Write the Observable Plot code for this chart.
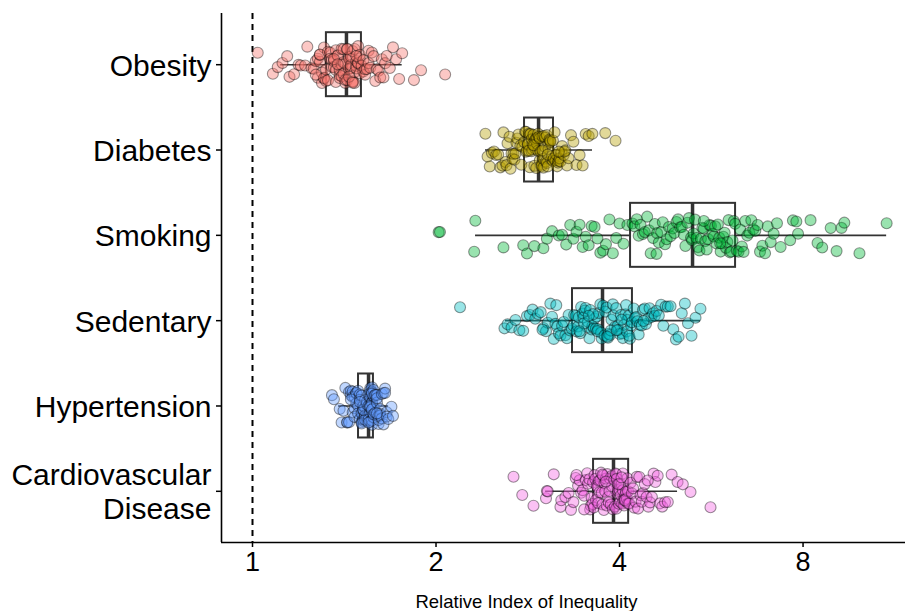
<!DOCTYPE html>
<html>
<head>
<meta charset="utf-8">
<script src="https://cdn.jsdelivr.net/npm/d3@7"></script>
<script src="https://cdn.jsdelivr.net/npm/@observablehq/plot@0.6"></script>
<style>
  html, body { margin: 0; padding: 0; background: #fff; }
  #chart svg { display: block; }
</style>
</head>
<body>
<div id="chart"></div>
<script>
// ---- data ----
const categories = ["Obesity", "Diabetes", "Smoking", "Sedentary", "Hypertension", "Cardiovascular\nDisease"];
const colors = ["#F8766D", "#B79F00", "#00BA38", "#00BFC4", "#619CFF", "#F564E3"];

// box-plot statistics (Relative Index of Inequality)
const whiskerLo = [1.112, 2.411, 2.322, 2.60, 1.384, 3.025];
const q1        = [1.322, 2.794, 4.17, 3.349, 1.4925, 3.626];
const median    = [1.426, 2.946, 5.27, 3.751, 1.55, 3.91];
const q3        = [1.509, 3.117, 6.20, 4.20, 1.579, 4.14];
const whiskerHi = [1.76, 3.612, 10.97, 5.43, 1.672, 4.98];

const xTicks = [1, 2, 4, 8];
const refLine = [1];
const xTitle = "Relative Index of Inequality";

// individual estimates
const obesityRII = [1.02, 1.08, 1.10, 1.12, 1.14, 1.15, 1.17, 1.19, 1.20, 1.22, 1.23, 1.25, 1.26, 1.27, 1.28, 1.28, 1.29, 1.29, 1.30, 1.30, 1.31, 1.31, 1.31, 1.32, 1.32, 1.29, 1.27,
  1.33, 1.33, 1.34, 1.34, 1.35, 1.35, 1.36, 1.36, 1.37, 1.37, 1.37, 1.38, 1.38, 1.39, 1.39, 1.39, 1.40, 1.40, 1.40, 1.41, 1.41, 1.41, 1.42, 1.42, 1.42, 1.36, 1.38,
  1.43, 1.43, 1.44, 1.44, 1.44, 1.45, 1.45, 1.45, 1.46, 1.46, 1.46, 1.47, 1.47, 1.47, 1.48, 1.48, 1.48, 1.49, 1.49, 1.49, 1.50, 1.50, 1.50, 1.44, 1.46, 1.48, 1.43,
  1.51, 1.52, 1.52, 1.53, 1.53, 1.54, 1.55, 1.55, 1.56, 1.57, 1.58, 1.59, 1.60, 1.61, 1.62, 1.63, 1.64, 1.65, 1.66, 1.68, 1.70, 1.72, 1.74, 1.76, 1.84, 1.89, 2.07];
const diabetesRII = [2.41, 2.43, 2.45, 2.47, 2.49, 2.51, 2.53, 2.55, 2.57, 2.58, 2.60, 2.61, 2.62, 2.64, 2.65, 2.66, 2.67, 2.68, 2.69, 2.70, 2.71, 2.72, 2.73, 2.75, 2.76, 2.77, 2.79,
  2.80, 2.81, 2.81, 2.82, 2.83, 2.83, 2.84, 2.85, 2.85, 2.86, 2.87, 2.87, 2.88, 2.88, 2.89, 2.90, 2.90, 2.91, 2.91, 2.92, 2.92, 2.93, 2.93, 2.94, 2.94, 2.84, 2.89,
  2.95, 2.96, 2.96, 2.97, 2.98, 2.98, 2.99, 3.00, 3.00, 3.01, 3.02, 3.02, 3.03, 3.04, 3.04, 3.05, 3.06, 3.06, 3.07, 3.08, 3.08, 3.09, 3.10, 3.11, 3.11, 2.99, 3.05,
  3.12, 3.13, 3.14, 3.15, 3.16, 3.17, 3.18, 3.19, 3.20, 3.21, 3.22, 3.24, 3.26, 3.28, 3.30, 3.33, 3.36, 3.40, 3.44, 3.48, 3.52, 3.56, 3.61, 3.79, 3.94, 3.25, 3.18];
const smokingRII = [2.02, 2.03, 2.31, 2.32, 2.58, 2.78, 2.82, 2.90, 3.00, 3.04, 3.10, 3.18, 3.22, 3.27, 3.32, 3.36, 3.40, 3.44, 3.48, 3.52, 3.56, 3.60, 3.64, 3.68, 3.72, 3.76, 3.80, 3.85, 3.90, 3.95, 4.00, 4.06, 4.12,
  4.20, 4.23, 4.27, 4.30, 4.33, 4.37, 4.40, 4.44, 4.47, 4.50, 4.54, 4.57, 4.61, 4.64, 4.68, 4.71, 4.75, 4.78, 4.82, 4.85, 4.89, 4.92, 4.96, 4.99, 5.03, 5.06, 5.10, 5.13, 5.17, 5.20, 5.24, 5.26, 4.60,
  5.29, 5.32, 5.35, 5.38, 5.41, 5.44, 5.47, 5.50, 5.53, 5.56, 5.59, 5.62, 5.65, 5.68, 5.71, 5.74, 5.77, 5.80, 5.83, 5.86, 5.89, 5.92, 5.95, 5.98, 6.01, 6.04, 6.07, 6.10, 6.13, 6.16, 6.19, 5.50, 5.85,
  6.23, 6.27, 6.31, 6.35, 6.39, 6.43, 6.48, 6.53, 6.58, 6.63, 6.68, 6.74, 6.80, 6.86, 6.93, 7.00, 7.08, 7.16, 7.25, 7.35, 7.62, 7.70, 7.80, 7.85, 8.23, 8.45, 8.60, 8.88, 9.08, 9.25, 9.35, 9.90, 10.97];
const sedentaryRII = [2.19, 2.59, 2.62, 2.66, 2.70, 2.74, 2.78, 2.82, 2.85, 2.88, 2.91, 2.94, 2.97, 3.00, 3.03, 3.05, 3.08, 3.10, 3.12, 3.14, 3.16, 3.18, 3.20, 3.22, 3.24, 3.26, 3.28, 3.30, 3.32, 3.34, 2.99, 3.15,
  3.36, 3.37, 3.39, 3.40, 3.42, 3.43, 3.45, 3.46, 3.48, 3.49, 3.51, 3.52, 3.54, 3.55, 3.57, 3.58, 3.60, 3.61, 3.63, 3.64, 3.66, 3.67, 3.69, 3.70, 3.72, 3.73, 3.74, 3.50, 3.62, 3.44, 3.56, 3.68,
  3.76, 3.78, 3.79, 3.81, 3.83, 3.84, 3.86, 3.88, 3.90, 3.91, 3.93, 3.95, 3.97, 3.98, 4.00, 4.02, 4.04, 4.05, 4.07, 4.09, 4.11, 4.12, 4.14, 4.16, 4.18, 4.19, 3.87, 3.96, 4.03, 4.10, 3.82, 4.15,
  4.22, 4.24, 4.26, 4.28, 4.30, 4.32, 4.35, 4.37, 4.40, 4.42, 4.45, 4.48, 4.51, 4.54, 4.57, 4.60, 4.64, 4.68, 4.72, 4.76, 4.80, 4.85, 4.90, 4.95, 5.00, 5.06, 5.12, 5.18, 5.25, 5.33, 5.43, 4.38];
const hypertensionRII = [1.35, 1.36, 1.39, 1.40, 1.41, 1.42, 1.43, 1.43, 1.44, 1.44, 1.45, 1.45, 1.46, 1.46, 1.46, 1.47, 1.47, 1.47, 1.48, 1.48, 1.48, 1.49, 1.49, 1.49, 1.45,
  1.50, 1.50, 1.50, 1.51, 1.51, 1.51, 1.52, 1.52, 1.52, 1.52, 1.53, 1.53, 1.53, 1.53, 1.54, 1.54, 1.54, 1.54, 1.55, 1.55, 1.51, 1.53, 1.52, 1.54, 1.50,
  1.55, 1.55, 1.56, 1.56, 1.56, 1.56, 1.56, 1.56, 1.57, 1.57, 1.57, 1.57, 1.57, 1.57, 1.57, 1.58, 1.58, 1.58, 1.58, 1.58, 1.56, 1.57, 1.55, 1.56, 1.57,
  1.58, 1.59, 1.59, 1.59, 1.60, 1.60, 1.60, 1.61, 1.61, 1.61, 1.62, 1.62, 1.62, 1.63, 1.63, 1.64, 1.64, 1.65, 1.65, 1.66, 1.66, 1.67, 1.69, 1.70, 1.60];
const cvdRII = [2.68, 2.77, 2.89, 3.03, 3.04, 3.05, 3.12, 3.20, 3.21, 3.26, 3.30, 3.33, 3.36, 3.39, 3.42, 3.44, 3.46, 3.48, 3.50, 3.52, 3.54, 3.55, 3.57, 3.58, 3.59, 3.60, 3.61, 3.62, 3.50, 3.40,
  3.63, 3.64, 3.65, 3.66, 3.67, 3.68, 3.69, 3.70, 3.71, 3.72, 3.73, 3.74, 3.75, 3.76, 3.77, 3.78, 3.79, 3.80, 3.81, 3.82, 3.83, 3.84, 3.85, 3.86, 3.87, 3.88, 3.89, 3.90, 3.75, 3.80,
  3.92, 3.93, 3.94, 3.95, 3.95, 3.96, 3.97, 3.98, 3.99, 4.00, 4.00, 4.01, 4.02, 4.03, 4.04, 4.05, 4.05, 4.06, 4.07, 4.08, 4.09, 4.10, 4.10, 4.11, 4.12, 4.13, 4.13, 3.98, 4.03, 4.08,
  4.15, 4.17, 4.19, 4.21, 4.23, 4.25, 4.27, 4.29, 4.31, 4.33, 4.35, 4.37, 4.40, 4.43, 4.46, 4.49, 4.52, 4.55, 4.58, 4.62, 4.66, 4.70, 4.75, 4.80, 4.87, 4.98, 5.08, 5.23, 5.64, 4.45];

const seriesValues = [obesityRII, diabetesRII, smokingRII, sedentaryRII, hypertensionRII, cvdRII];

// ---- tables built from the arrays ----
const boxes = categories.map((c, i) => ({
  i, cat: c, lo: whiskerLo[i], q1: q1[i], med: median[i], q3: q3[i], hi: whiskerHi[i]
}));

// deterministic vertical jitter (display offset only, like geom_jitter)
function jitter(k) {
  const s = Math.sin(k * 12.9898 + 78.233) * 43758.5453;
  return (s - Math.floor(s)) - 0.5;
}
const points = [];
let k = 0;
seriesValues.forEach((vals, i) => {
  vals.forEach(v => { points.push({i, cat: categories[i], v, j: jitter(k++)}); });
});

const W = 905, H = 611;
const ml = 221, mr = 0, mt = 13, mb = 69;
const xDomain = [0.8895, 11.78];
const yDomain = [-0.6, 5.6];
const boxHalf = 0.375;
const jitterHeight = 0.44;
const ink = "#333333";

const chart = Plot.plot({
  width: W,
  height: H,
  marginLeft: ml,
  marginRight: mr,
  marginTop: mt,
  marginBottom: mb,
  style: {fontFamily: "'Liberation Sans', Arial, Helvetica, sans-serif", background: "#fff", color: "#000"},
  x: {type: "log", domain: xDomain},
  y: {type: "linear", domain: yDomain, reverse: true},
  color: {domain: categories, range: colors},
  marks: [
    // reference line
    Plot.ruleX(refLine, {stroke: "#000", strokeWidth: 2, strokeDasharray: "6,5"}),
    // whiskers
    Plot.ruleY(boxes, {y: "i", x1: "lo", x2: "hi", stroke: ink, strokeWidth: 1.6}),
    // boxes
    Plot.rect(boxes, {x1: "q1", x2: "q3", y1: d => d.i - boxHalf, y2: d => d.i + boxHalf, fill: "#fff", stroke: ink, strokeWidth: 2}),
    // medians
    Plot.ruleX(boxes, {x: "med", y1: d => d.i - boxHalf, y2: d => d.i + boxHalf, stroke: ink, strokeWidth: 3.5}),
    // jittered points
    Plot.dot(points, {
      x: "v", y: d => d.i + d.j * jitterHeight, r: 5.5,
      fill: "cat", fillOpacity: 0.4, stroke: "#000", strokeOpacity: 0.4, strokeWidth: 1.1
    }),
    // axis lines
    Plot.ruleY([yDomain[1]], {stroke: "#000", strokeWidth: 1.6}),
    Plot.ruleX([xDomain[0]], {stroke: "#000", strokeWidth: 1.6}),
    // axes
    Plot.axisX({ticks: xTicks, tickFormat: d => String(d), tickSize: 5, tickPadding: 4, fontSize: 27, label: null, stroke: "#000", strokeWidth: 1.5}),
    Plot.axisY({ticks: d3.range(categories.length), tickFormat: i => categories[i], tickSize: 5, tickPadding: 5, fontSize: 30, lineHeight: 1.13, label: null, stroke: "#000", strokeWidth: 1.5}),
    Plot.text([xTitle], {frameAnchor: "bottom", dx: -37, dy: 65, lineAnchor: "bottom", fontSize: 18.5, fill: "#000"})
  ]
});
document.getElementById("chart").appendChild(chart);
</script>
</body>
</html>
